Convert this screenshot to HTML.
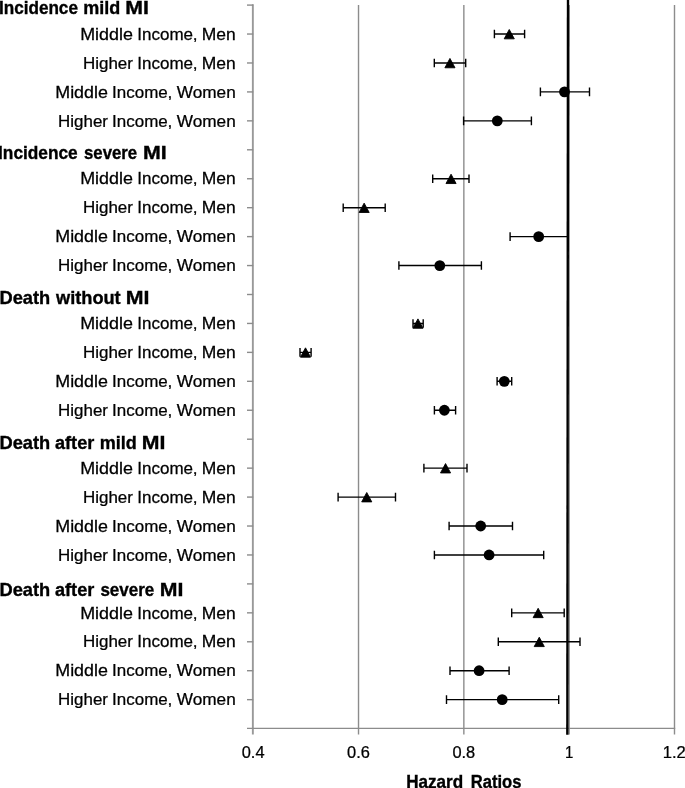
<!DOCTYPE html>
<html><head><meta charset="utf-8"><title>Hazard Ratios</title>
<style>
html,body{margin:0;padding:0;background:#fff;}
svg{display:block;}
text{font-family:"Liberation Sans",sans-serif;fill:#000;stroke:#000;stroke-width:0.25px;}
.b{font-weight:bold;stroke-width:0.35px;}
</style></head><body>
<svg width="685" height="788" viewBox="0 0 685 788">
<rect width="685" height="788" fill="#fff"/>

<line x1="358.52" y1="5" x2="358.52" y2="734.5" stroke="#8c8c8c" stroke-width="1.4"/>
<line x1="463.85" y1="5" x2="463.85" y2="734.5" stroke="#8c8c8c" stroke-width="1.4"/>
<line x1="569.17" y1="5" x2="569.17" y2="734.5" stroke="#8c8c8c" stroke-width="1.4"/>
<line x1="674.50" y1="5" x2="674.50" y2="734.5" stroke="#8c8c8c" stroke-width="1.4"/>
<line x1="252.85" y1="4.3" x2="252.85" y2="734.5" stroke="#999" stroke-width="1.9"/>
<line x1="247" y1="728.4" x2="675.20" y2="728.4" stroke="#8c8c8c" stroke-width="1.4"/>
<line x1="247" y1="5.10" x2="253.20" y2="5.10" stroke="#8c8c8c" stroke-width="1.4"/>
<line x1="247" y1="34.04" x2="253.20" y2="34.04" stroke="#8c8c8c" stroke-width="1.4"/>
<line x1="247" y1="62.98" x2="253.20" y2="62.98" stroke="#8c8c8c" stroke-width="1.4"/>
<line x1="247" y1="91.92" x2="253.20" y2="91.92" stroke="#8c8c8c" stroke-width="1.4"/>
<line x1="247" y1="120.86" x2="253.20" y2="120.86" stroke="#8c8c8c" stroke-width="1.4"/>
<line x1="247" y1="149.80" x2="253.20" y2="149.80" stroke="#8c8c8c" stroke-width="1.4"/>
<line x1="247" y1="178.74" x2="253.20" y2="178.74" stroke="#8c8c8c" stroke-width="1.4"/>
<line x1="247" y1="207.68" x2="253.20" y2="207.68" stroke="#8c8c8c" stroke-width="1.4"/>
<line x1="247" y1="236.62" x2="253.20" y2="236.62" stroke="#8c8c8c" stroke-width="1.4"/>
<line x1="247" y1="265.56" x2="253.20" y2="265.56" stroke="#8c8c8c" stroke-width="1.4"/>
<line x1="247" y1="294.50" x2="253.20" y2="294.50" stroke="#8c8c8c" stroke-width="1.4"/>
<line x1="247" y1="323.44" x2="253.20" y2="323.44" stroke="#8c8c8c" stroke-width="1.4"/>
<line x1="247" y1="352.38" x2="253.20" y2="352.38" stroke="#8c8c8c" stroke-width="1.4"/>
<line x1="247" y1="381.32" x2="253.20" y2="381.32" stroke="#8c8c8c" stroke-width="1.4"/>
<line x1="247" y1="410.26" x2="253.20" y2="410.26" stroke="#8c8c8c" stroke-width="1.4"/>
<line x1="247" y1="439.20" x2="253.20" y2="439.20" stroke="#8c8c8c" stroke-width="1.4"/>
<line x1="247" y1="468.14" x2="253.20" y2="468.14" stroke="#8c8c8c" stroke-width="1.4"/>
<line x1="247" y1="497.08" x2="253.20" y2="497.08" stroke="#8c8c8c" stroke-width="1.4"/>
<line x1="247" y1="526.02" x2="253.20" y2="526.02" stroke="#8c8c8c" stroke-width="1.4"/>
<line x1="247" y1="554.96" x2="253.20" y2="554.96" stroke="#8c8c8c" stroke-width="1.4"/>
<line x1="247" y1="583.90" x2="253.20" y2="583.90" stroke="#8c8c8c" stroke-width="1.4"/>
<line x1="247" y1="612.84" x2="253.20" y2="612.84" stroke="#8c8c8c" stroke-width="1.4"/>
<line x1="247" y1="641.78" x2="253.20" y2="641.78" stroke="#8c8c8c" stroke-width="1.4"/>
<line x1="247" y1="670.72" x2="253.20" y2="670.72" stroke="#8c8c8c" stroke-width="1.4"/>
<line x1="247" y1="699.66" x2="253.20" y2="699.66" stroke="#8c8c8c" stroke-width="1.4"/>
<line x1="568.0" y1="0" x2="567.35" y2="734.8" stroke="#000" stroke-width="2.4"/>
<path d="M494.4 34.04H524.6M494.4 29.74v8.6M524.6 29.74v8.6" stroke="#000" stroke-width="1.4" fill="none"/>
<path d="M509.25 29.49l5.05 9.35h-10.1z" fill="#000" stroke="#000" stroke-width="0.9" stroke-linejoin="round"/>
<path d="M434.3 62.98H465.7M434.3 58.68v8.6M465.7 58.68v8.6" stroke="#000" stroke-width="1.4" fill="none"/>
<path d="M449.95 58.43l5.05 9.35h-10.1z" fill="#000" stroke="#000" stroke-width="0.9" stroke-linejoin="round"/>
<path d="M540.4 91.92H589.5M540.4 87.62v8.6M589.5 87.62v8.6" stroke="#000" stroke-width="1.4" fill="none"/>
<circle cx="564.5" cy="91.92" r="5.4" fill="#000"/>
<path d="M463.6 120.86H531.4M463.6 116.56v8.6M531.4 116.56v8.6" stroke="#000" stroke-width="1.4" fill="none"/>
<circle cx="497.3" cy="120.86" r="5.4" fill="#000"/>
<path d="M432.7 178.74H469.0M432.7 174.44v8.6M469.0 174.44v8.6" stroke="#000" stroke-width="1.4" fill="none"/>
<path d="M451.05 174.19l5.05 9.35h-10.1z" fill="#000" stroke="#000" stroke-width="0.9" stroke-linejoin="round"/>
<path d="M343.2 207.68H385.2M343.2 203.38v8.6M385.2 203.38v8.6" stroke="#000" stroke-width="1.4" fill="none"/>
<path d="M364.15 203.13l5.05 9.35h-10.1z" fill="#000" stroke="#000" stroke-width="0.9" stroke-linejoin="round"/>
<path d="M510.1 236.62H568.2M510.1 232.32v8.6M568.2 232.32v8.6" stroke="#000" stroke-width="1.4" fill="none"/>
<circle cx="538.7" cy="236.62" r="5.4" fill="#000"/>
<path d="M398.9 265.56H481.4M398.9 261.26v8.6M481.4 261.26v8.6" stroke="#000" stroke-width="1.4" fill="none"/>
<circle cx="439.8" cy="265.56" r="5.4" fill="#000"/>
<path d="M413.0 323.44H423.2M413.0 319.14v8.6M423.2 319.14v8.6" stroke="#000" stroke-width="1.4" fill="none"/>
<path d="M417.95 318.89l5.05 9.35h-10.1z" fill="#000" stroke="#000" stroke-width="0.9" stroke-linejoin="round"/>
<path d="M300.0 352.38H311.1M300.0 348.08v8.6M311.1 348.08v8.6" stroke="#000" stroke-width="1.4" fill="none"/>
<path d="M305.50 347.83l5.05 9.35h-10.1z" fill="#000" stroke="#000" stroke-width="0.9" stroke-linejoin="round"/>
<path d="M497.1 381.32H511.7M497.1 377.02v8.6M511.7 377.02v8.6" stroke="#000" stroke-width="1.4" fill="none"/>
<circle cx="504.3" cy="381.32" r="5.4" fill="#000"/>
<path d="M434.4 410.26H455.6M434.4 405.96v8.6M455.6 405.96v8.6" stroke="#000" stroke-width="1.4" fill="none"/>
<circle cx="444.4" cy="410.26" r="5.4" fill="#000"/>
<path d="M423.9 468.14H467.0M423.9 463.84v8.6M467.0 463.84v8.6" stroke="#000" stroke-width="1.4" fill="none"/>
<path d="M445.55 463.59l5.05 9.35h-10.1z" fill="#000" stroke="#000" stroke-width="0.9" stroke-linejoin="round"/>
<path d="M338.1 497.08H395.5M338.1 492.78v8.6M395.5 492.78v8.6" stroke="#000" stroke-width="1.4" fill="none"/>
<path d="M366.75 492.53l5.05 9.35h-10.1z" fill="#000" stroke="#000" stroke-width="0.9" stroke-linejoin="round"/>
<path d="M449.1 526.02H512.5M449.1 521.72v8.6M512.5 521.72v8.6" stroke="#000" stroke-width="1.4" fill="none"/>
<circle cx="480.7" cy="526.02" r="5.4" fill="#000"/>
<path d="M434.4 554.96H543.7M434.4 550.66v8.6M543.7 550.66v8.6" stroke="#000" stroke-width="1.4" fill="none"/>
<circle cx="489.1" cy="554.96" r="5.4" fill="#000"/>
<path d="M511.7 612.84H564.2M511.7 608.54v8.6M564.2 608.54v8.6" stroke="#000" stroke-width="1.4" fill="none"/>
<path d="M538.15 608.29l5.05 9.35h-10.1z" fill="#000" stroke="#000" stroke-width="0.9" stroke-linejoin="round"/>
<path d="M498.3 641.78H580.0M498.3 637.48v8.6M580.0 637.48v8.6" stroke="#000" stroke-width="1.4" fill="none"/>
<path d="M539.25 637.23l5.05 9.35h-10.1z" fill="#000" stroke="#000" stroke-width="0.9" stroke-linejoin="round"/>
<path d="M450.0 670.72H509.1M450.0 666.42v8.6M509.1 666.42v8.6" stroke="#000" stroke-width="1.4" fill="none"/>
<circle cx="479.1" cy="670.72" r="5.4" fill="#000"/>
<path d="M446.5 699.66H558.7M446.5 695.36v8.6M558.7 695.36v8.6" stroke="#000" stroke-width="1.4" fill="none"/>
<circle cx="502.2" cy="699.66" r="5.4" fill="#000"/>
<text transform="translate(80.16 39.74) scale(1.1448 1)" font-size="15.65">Middle</text>
<text transform="translate(137.31 39.74) scale(1.0869 1)" font-size="15.65">Income</text>
<text transform="translate(192.80 39.74) scale(1.1000 1)" font-size="15.65">,</text>
<text transform="translate(201.78 39.74) scale(1.1174 1)" font-size="15.65">Men</text>
<text transform="translate(83.02 68.68) scale(1.0832 1)" font-size="15.65">Higher</text>
<text transform="translate(137.31 68.68) scale(1.0869 1)" font-size="15.65">Income</text>
<text transform="translate(192.80 68.68) scale(1.1000 1)" font-size="15.65">,</text>
<text transform="translate(201.78 68.68) scale(1.1174 1)" font-size="15.65">Men</text>
<text transform="translate(55.26 97.62) scale(1.1425 1)" font-size="15.65">Middle</text>
<text transform="translate(112.12 97.62) scale(1.0849 1)" font-size="15.65">Income</text>
<text transform="translate(167.50 97.62) scale(1.1000 1)" font-size="15.65">,</text>
<text transform="translate(176.70 97.62) scale(1.1020 1)" font-size="15.65">Women</text>
<text transform="translate(58.12 126.56) scale(1.0810 1)" font-size="15.65">Higher</text>
<text transform="translate(112.12 126.56) scale(1.0849 1)" font-size="15.65">Income</text>
<text transform="translate(167.50 126.56) scale(1.1000 1)" font-size="15.65">,</text>
<text transform="translate(176.70 126.56) scale(1.1020 1)" font-size="15.65">Women</text>
<text transform="translate(80.16 184.44) scale(1.1448 1)" font-size="15.65">Middle</text>
<text transform="translate(137.31 184.44) scale(1.0869 1)" font-size="15.65">Income</text>
<text transform="translate(192.80 184.44) scale(1.1000 1)" font-size="15.65">,</text>
<text transform="translate(201.78 184.44) scale(1.1174 1)" font-size="15.65">Men</text>
<text transform="translate(83.02 213.38) scale(1.0832 1)" font-size="15.65">Higher</text>
<text transform="translate(137.31 213.38) scale(1.0869 1)" font-size="15.65">Income</text>
<text transform="translate(192.80 213.38) scale(1.1000 1)" font-size="15.65">,</text>
<text transform="translate(201.78 213.38) scale(1.1174 1)" font-size="15.65">Men</text>
<text transform="translate(55.26 242.32) scale(1.1425 1)" font-size="15.65">Middle</text>
<text transform="translate(112.12 242.32) scale(1.0849 1)" font-size="15.65">Income</text>
<text transform="translate(167.50 242.32) scale(1.1000 1)" font-size="15.65">,</text>
<text transform="translate(176.70 242.32) scale(1.1020 1)" font-size="15.65">Women</text>
<text transform="translate(58.12 271.26) scale(1.0810 1)" font-size="15.65">Higher</text>
<text transform="translate(112.12 271.26) scale(1.0849 1)" font-size="15.65">Income</text>
<text transform="translate(167.50 271.26) scale(1.1000 1)" font-size="15.65">,</text>
<text transform="translate(176.70 271.26) scale(1.1020 1)" font-size="15.65">Women</text>
<text transform="translate(80.16 329.14) scale(1.1448 1)" font-size="15.65">Middle</text>
<text transform="translate(137.31 329.14) scale(1.0869 1)" font-size="15.65">Income</text>
<text transform="translate(192.80 329.14) scale(1.1000 1)" font-size="15.65">,</text>
<text transform="translate(201.78 329.14) scale(1.1174 1)" font-size="15.65">Men</text>
<text transform="translate(83.02 358.08) scale(1.0832 1)" font-size="15.65">Higher</text>
<text transform="translate(137.31 358.08) scale(1.0869 1)" font-size="15.65">Income</text>
<text transform="translate(192.80 358.08) scale(1.1000 1)" font-size="15.65">,</text>
<text transform="translate(201.78 358.08) scale(1.1174 1)" font-size="15.65">Men</text>
<text transform="translate(55.26 387.02) scale(1.1425 1)" font-size="15.65">Middle</text>
<text transform="translate(112.12 387.02) scale(1.0849 1)" font-size="15.65">Income</text>
<text transform="translate(167.50 387.02) scale(1.1000 1)" font-size="15.65">,</text>
<text transform="translate(176.70 387.02) scale(1.1020 1)" font-size="15.65">Women</text>
<text transform="translate(58.12 415.96) scale(1.0810 1)" font-size="15.65">Higher</text>
<text transform="translate(112.12 415.96) scale(1.0849 1)" font-size="15.65">Income</text>
<text transform="translate(167.50 415.96) scale(1.1000 1)" font-size="15.65">,</text>
<text transform="translate(176.70 415.96) scale(1.1020 1)" font-size="15.65">Women</text>
<text transform="translate(80.16 473.84) scale(1.1448 1)" font-size="15.65">Middle</text>
<text transform="translate(137.31 473.84) scale(1.0869 1)" font-size="15.65">Income</text>
<text transform="translate(192.80 473.84) scale(1.1000 1)" font-size="15.65">,</text>
<text transform="translate(201.78 473.84) scale(1.1174 1)" font-size="15.65">Men</text>
<text transform="translate(83.02 502.78) scale(1.0832 1)" font-size="15.65">Higher</text>
<text transform="translate(137.31 502.78) scale(1.0869 1)" font-size="15.65">Income</text>
<text transform="translate(192.80 502.78) scale(1.1000 1)" font-size="15.65">,</text>
<text transform="translate(201.78 502.78) scale(1.1174 1)" font-size="15.65">Men</text>
<text transform="translate(55.26 531.72) scale(1.1425 1)" font-size="15.65">Middle</text>
<text transform="translate(112.12 531.72) scale(1.0849 1)" font-size="15.65">Income</text>
<text transform="translate(167.50 531.72) scale(1.1000 1)" font-size="15.65">,</text>
<text transform="translate(176.70 531.72) scale(1.1020 1)" font-size="15.65">Women</text>
<text transform="translate(58.12 560.66) scale(1.0810 1)" font-size="15.65">Higher</text>
<text transform="translate(112.12 560.66) scale(1.0849 1)" font-size="15.65">Income</text>
<text transform="translate(167.50 560.66) scale(1.1000 1)" font-size="15.65">,</text>
<text transform="translate(176.70 560.66) scale(1.1020 1)" font-size="15.65">Women</text>
<text transform="translate(80.16 618.54) scale(1.1448 1)" font-size="15.65">Middle</text>
<text transform="translate(137.31 618.54) scale(1.0869 1)" font-size="15.65">Income</text>
<text transform="translate(192.80 618.54) scale(1.1000 1)" font-size="15.65">,</text>
<text transform="translate(201.78 618.54) scale(1.1174 1)" font-size="15.65">Men</text>
<text transform="translate(83.02 647.48) scale(1.0832 1)" font-size="15.65">Higher</text>
<text transform="translate(137.31 647.48) scale(1.0869 1)" font-size="15.65">Income</text>
<text transform="translate(192.80 647.48) scale(1.1000 1)" font-size="15.65">,</text>
<text transform="translate(201.78 647.48) scale(1.1174 1)" font-size="15.65">Men</text>
<text transform="translate(55.26 676.42) scale(1.1425 1)" font-size="15.65">Middle</text>
<text transform="translate(112.12 676.42) scale(1.0849 1)" font-size="15.65">Income</text>
<text transform="translate(167.50 676.42) scale(1.1000 1)" font-size="15.65">,</text>
<text transform="translate(176.70 676.42) scale(1.1020 1)" font-size="15.65">Women</text>
<text transform="translate(58.12 705.36) scale(1.0810 1)" font-size="15.65">Higher</text>
<text transform="translate(112.12 705.36) scale(1.0849 1)" font-size="15.65">Income</text>
<text transform="translate(167.50 705.36) scale(1.1000 1)" font-size="15.65">,</text>
<text transform="translate(176.70 705.36) scale(1.1020 1)" font-size="15.65">Women</text>
<text class="b" transform="translate(-1.07 14.35) scale(0.9684 1)" font-size="17.7">Incidence</text>
<text class="b" transform="translate(83.28 14.35) scale(1.0187 1)" font-size="17.7">mild</text>
<text class="b" transform="translate(125.30 14.35) scale(1.2011 1)" font-size="17.7">MI</text>
<text class="b" transform="translate(-1.98 159.20) scale(0.9771 1)" font-size="17.7">Incidence</text>
<text class="b" transform="translate(84.00 159.20) scale(0.9479 1)" font-size="17.7">severe</text>
<text class="b" transform="translate(142.99 159.20) scale(1.2067 1)" font-size="17.7">MI</text>
<text class="b" transform="translate(-0.53 304.20) scale(1.0330 1)" font-size="17.7">Death</text>
<text class="b" transform="translate(56.03 304.20) scale(1.0285 1)" font-size="17.7">without</text>
<text class="b" transform="translate(125.79 304.20) scale(1.2067 1)" font-size="17.7">MI</text>
<text class="b" transform="translate(-0.53 449.20) scale(1.0330 1)" font-size="17.7">Death</text>
<text class="b" transform="translate(55.00 449.20) scale(1.0246 1)" font-size="17.7">after</text>
<text class="b" transform="translate(99.68 449.20) scale(1.0187 1)" font-size="17.7">mild</text>
<text class="b" transform="translate(141.70 449.20) scale(1.2011 1)" font-size="17.7">MI</text>
<text class="b" transform="translate(-0.53 596.00) scale(1.0330 1)" font-size="17.7">Death</text>
<text class="b" transform="translate(55.00 596.00) scale(1.0246 1)" font-size="17.7">after</text>
<text class="b" transform="translate(100.40 596.00) scale(0.9603 1)" font-size="17.7">severe</text>
<text class="b" transform="translate(159.70 596.00) scale(1.2011 1)" font-size="17.7">MI</text>
<text transform="translate(241.75 758.00) scale(1.0249 1)" font-size="16.0">0.4</text>
<text transform="translate(347.07 758.00) scale(1.0249 1)" font-size="16.0">0.6</text>
<text transform="translate(452.40 758.00) scale(1.0249 1)" font-size="16.0">0.8</text>
<text transform="translate(662.81 758.00) scale(1.0354 1)" font-size="16.0">1.2</text>
<text transform="translate(564.96 758.00) scale(0.9375 1)" font-size="16.0">1</text>
<text class="b" transform="translate(406.13 787.60) scale(0.9672 1)" font-size="17.7">Hazard</text>
<text class="b" transform="translate(470.76 787.60) scale(0.9376 1)" font-size="17.7">Ratios</text>
</svg></body></html>
